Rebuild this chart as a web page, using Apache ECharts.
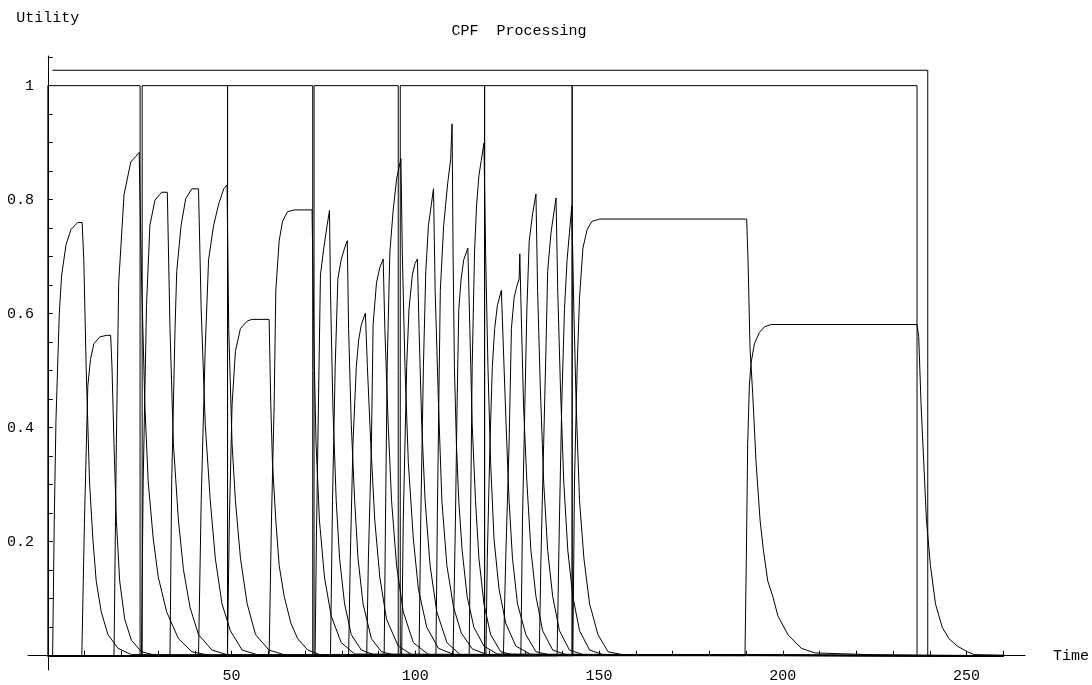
<!DOCTYPE html>
<html><head><meta charset="utf-8">
<script src="https://cdn.jsdelivr.net/npm/echarts@6/dist/echarts.min.js"></script>
<style>html,body{margin:0;padding:0;background:#fff}#c{width:1092px;height:685px}</style>
</head><body><div id="c"></div>
<script>
// ---- data ----
const xDomain = [0, 260];
const xTickValues = [10,20,30,40,50,60,70,80,90,100,110,120,130,140,150,160,170,180,190,200,210,220,230,240,250,260];
const xLabelValues = [50,100,150,200,250];
const yTickValues = [0.05,0.1,0.15,0.2,0.25,0.3,0.35,0.4,0.45,0.5,0.55,0.6,0.65,0.7,0.75,0.8,0.85,0.9,0.95,1,1.05];
const yLabelValues = [0.2,0.4,0.6,0.8,1];

// step utility functions (value 1 between start and deadline)
const stepStarts = [0, 25.67, 48.9, 72.44, 95.9, 118.85, 142.67];
const stepEnds   = [25.1, 48.9, 72.08, 95.35, 118.85, 142.67, 236.52];
// outer envelope line
const outerLine = [[1.27,1.027],[239.44,1.027],[239.44,0]];

const bumpA = [[1.3,0],[1.75,.238],[2.21,.413],[3.12,.601],[3.76,.668],[4.95,.721],[6.32,.748],[8.14,.76],[9.33,.76],[9.78,.695],[10.42,.507],[11.34,.305],[12.25,.205],[13.16,.131],[14.53,.077],[16.36,.037],[19.1,.013],[22.75,.002]];
const bumpB = [[9.24,0],[9.97,.238],[10.88,.473],[11.61,.52],[12.52,.547],[14.07,.559],[15.9,.562],[17.09,.562],[17.45,.507],[18.0,.372],[18.64,.238],[19.55,.131],[20.92,.064],[22.75,.027],[25.48,.007],[29.14,.001]];
const bumpC = [[18.0,0],[18.64,.372],[19.28,.654],[20.74,.809],[22.56,.866],[23.93,.876],[24.85,.883],[25.48,.668],[26.4,.44],[27.31,.305],[28.68,.205],[30.05,.138],[32.33,.077],[35.53,.03],[39.18,.007],[43.74,.001]];
const bumpD = [[25.48,0],[25.94,.305],[26.85,.614],[27.77,.755],[29.14,.799],[30.96,.813],[32.51,.813],[33.24,.574],[34.16,.372],[35.53,.238],[36.9,.151],[38.72,.084],[41.0,.037],[44.65,.01],[49.2,.001]];
const bumpE = [[33.24,0],[33.7,.305],[34.61,.574],[35.07,.674],[36.26,.755],[37.53,.802],[39.18,.819],[41.0,.819],[41.73,.607],[42.83,.406],[44.2,.272],[45.57,.171],[47.39,.091],[49.67,.044],[52.87,.01],[57.4,.001]];
const bumpF = [[41.0,0],[41.73,.272],[42.83,.54],[43.74,.695],[45.11,.755],[46.48,.792],[47.85,.819],[48.76,.826],[49.22,.574],[50.13,.372],[51.04,.272],[52.41,.171],[54.24,.091],[56.52,.037],[60.17,.01],[64.7,.001]];
const bumpG = [[48.85,0],[49.4,.238],[50.13,.44],[51.04,.534],[52.41,.574],[54.24,.587],[55.5,.59],[60.21,.59],[60.67,.44],[61.12,.339],[62.03,.238],[62.95,.158],[64.32,.104],[66.14,.057],[67.97,.03],[70.71,.01],[74.36,.001]];
const bumpH = [[60.21,0],[60.85,.238],[61.58,.44],[62.03,.641],[62.95,.728],[63.86,.762],[65.23,.779],[67.05,.782],[71.89,.782],[72.53,.507],[72.99,.372],[73.9,.238],[75.27,.138],[77.1,.07],[79.83,.023],[83.5,.003]];
const bumpI = [[72.72,0],[73.08,.205],[73.63,.44],[74.18,.668],[75.09,.715],[76.0,.755],[76.64,.781],[76.91,.641],[77.55,.44],[78.47,.272],[79.38,.171],[80.75,.091],[82.57,.037],[85.31,.01],[88.96,.001]];
const bumpJ = [[76.91,0],[77.46,.272],[78.19,.507],[78.92,.661],[79.83,.695],[80.75,.715],[81.48,.728],[81.84,.574],[82.57,.406],[83.49,.272],[84.4,.171],[85.77,.091],[88.05,.03],[90.79,.007],[94.4,.001]];
const bumpK = [[81.84,0],[82.3,.171],[83.03,.372],[83.94,.507],[84.58,.554],[85.31,.581],[86.41,.601],[86.95,.507],[87.87,.372],[88.96,.238],[90.33,.138],[92.16,.064],[95.35,.017],[99.0,.002]];
const bumpL = [[86.77,0],[87.23,.171],[88.05,.372],[88.51,.581],[89.42,.654],[90.33,.681],[91.25,.696],[91.7,.574],[92.61,.406],[93.53,.272],[94.9,.158],[96.72,.077],[99.46,.023],[103.6,.002]];
const bumpM = [[91.52,0],[91.88,.238],[92.34,.507],[93.07,.708],[93.98,.782],[94.9,.836],[96.08,.872],[96.45,.708],[97.18,.507],[98.09,.339],[99.46,.205],[100.83,.117],[103.11,.05],[106.3,.013],[110.9,.001]];
const bumpN = [[96.27,0],[96.72,.238],[97.64,.507],[98.27,.607],[99.19,.668],[99.92,.688],[100.56,.696],[101.01,.574],[101.74,.406],[102.66,.272],[104.02,.158],[105.85,.077],[108.59,.023],[112.2,.002]];
const bumpO = [[101.01,0],[101.47,.238],[102.2,.507],[102.84,.674],[103.57,.755],[104.3,.789],[104.94,.819],[105.39,.641],[106.31,.44],[107.22,.272],[108.59,.158],[110.4,.085],[112.5,.04],[115.5,.012],[119.5,.002]];
const bumpP = [[105.6,0],[106.0,.25],[106.5,.5],[106.8,.641],[107.71,.755],[108.81,.829],[109.6,.87],[110.0,.933],[110.27,.708],[110.63,.507],[111.18,.372],[111.82,.272],[112.73,.185],[114.1,.104],[115.93,.05],[118.67,.017],[122.3,.003]];
const bumpQ = [[110.27,0],[110.91,.238],[111.36,.44],[111.82,.607],[112.46,.661],[113.19,.695],[114.29,.715],[114.83,.574],[115.47,.406],[116.38,.272],[117.3,.171],[118.67,.091],[120.49,.037],[123.23,.007],[126.9,.001]];
const bumpR = [[114.65,0],[115.02,.238],[115.47,.507],[116.11,.708],[116.66,.789],[117.3,.842],[117.94,.869],[118.67,.899],[119.12,.708],[119.76,.507],[120.49,.339],[121.41,.205],[122.77,.117],[124.6,.057],[127.34,.017],[131.5,.002]];
const bumpS = [[119.21,0],[119.58,.171],[120.31,.372],[120.95,.507],[121.59,.574],[122.32,.614],[123.41,.641],[123.96,.54],[124.69,.406],[125.51,.272],[126.43,.171],[127.8,.091],[130.08,.037],[132.82,.007],[136.9,.001]];
const bumpT = [[123.96,0],[124.6,.171],[125.51,.372],[126.15,.574],[126.88,.628],[127.61,.648],[128.25,.661],[128.43,.705],[128.71,.628],[129.44,.44],[130.35,.305],[131.45,.185],[132.82,.104],[134.64,.044],[137.38,.01],[141.5,.001]];
const bumpU = [[128.71,0],[129.16,.238],[129.8,.44],[130.35,.607],[130.99,.728],[131.9,.775],[132.82,.81],[133.27,.641],[134.0,.473],[134.92,.305],[136.01,.185],[137.38,.104],[139.21,.044],[141.94,.01],[146.1,.001]];
const bumpV = [[133.73,0],[134.18,.171],[134.92,.372],[135.55,.54],[136.01,.674],[136.92,.742],[137.65,.775],[138.29,.803],[138.75,.641],[139.48,.473],[140.39,.305],[141.49,.185],[142.86,.104],[144.68,.044],[147.42,.01],[151.5,.001]];
const bumpW = [[138.57,0],[139.21,.238],[139.84,.44],[140.58,.607],[141.3,.695],[141.94,.742],[142.58,.789],[143.13,.607],[143.77,.44],[144.68,.272],[145.87,.171],[147.42,.091],[149.7,.037],[152.44,.007],[157.0,.001]];
const bumpX = [[142.86,0],[143.31,.305],[144.04,.507],[144.68,.628],[145.6,.715],[146.78,.748],[148.06,.762],[150.16,.766],[190.16,.766],[190.53,.695],[191.07,.54],[191.8,.46],[192.72,.339],[193.81,.238],[194.72,.185],[195.91,.131],[197.28,.104],[198.65,.07],[201.39,.037],[205.04,.013],[208.7,.005],[223,.002]];
const bumpY = [[189.7,0],[190.07,.171],[190.44,.372],[190.89,.473],[191.35,.513],[192.26,.547],[193.63,.567],[195.0,.577],[196.83,.581],[236.52,.581],[236.98,.56],[237.62,.44],[238.35,.339],[239.08,.238],[240.17,.158],[241.54,.091],[243.37,.05],[245.2,.03],[247.48,.017],[250.21,.007],[252.04,.002],[260,.001]];

const bumps = [bumpA,bumpB,bumpC,bumpD,bumpE,bumpF,bumpG,bumpH,bumpI,bumpJ,bumpK,bumpL,bumpM,bumpN,bumpO,bumpP,bumpQ,bumpR,bumpS,bumpT,bumpU,bumpV,bumpW,bumpX,bumpY];

// ---- chart ----
const FONT_MONO = 'Liberation Mono';
const lineStyle = {color:'#000', width:1};
const series = [];
function addLine(data){
  series.push({type:'line', data:data, symbol:'none', showSymbol:false, lineStyle:lineStyle,
    silent:true, animation:false, z:2});
}
bumps.forEach(b => addLine([[xDomain[0],0]].concat(b, [[xDomain[1],0]])));
stepStarts.forEach((s,i) => addLine([[s,0],[s,1],[stepEnds[i],1],[stepEnds[i],0]]));
addLine(outerLine);

const chart = echarts.init(document.getElementById('c'), null, {renderer:'canvas'});
chart.setOption({
  backgroundColor:'#fff',
  animation:false,
  title:{
    text:'CPF  Processing', left:514, top:19, textAlign:'center',
    textStyle:{fontFamily:FONT_MONO, fontSize:15, fontWeight:'normal', color:'#000'}
  },
  grid:{left:28, right:67, top:56, bottom:15, containLabel:false, outerBoundsMode:'none'},
  xAxis:{
    type:'value', min:-5.4, max:265.9,
    axisLine:{onZero:true, lineStyle:{color:'#000', width:1}},
    axisTick:{inside:true, length:5, customValues:xTickValues, lineStyle:{color:'#000'}},
    axisLabel:{customValues:xLabelValues, color:'#000', fontFamily:FONT_MONO, fontSize:15, margin:-1},
    splitLine:{show:false},
    name:'Time', nameLocation:'end', nameGap:28,
    nameTextStyle:{fontFamily:FONT_MONO, fontSize:15, color:'#000', align:'left', verticalAlign:'middle'}
  },
  yAxis:{
    type:'value', min:-0.025, max:1.052,
    axisLine:{onZero:true, lineStyle:{color:'#000', width:1}},
    axisTick:{inside:true, length:5, customValues:yTickValues, lineStyle:{color:'#000'}},
    axisLabel:{customValues:yLabelValues, color:'#000', fontFamily:FONT_MONO, fontSize:15, margin:-6,
      formatter: v => String(v)},
    splitLine:{show:false},
    name:'Utility', nameLocation:'end', nameGap:30,
    nameTextStyle:{fontFamily:FONT_MONO, fontSize:15, color:'#000', align:'center'}
  },
  series:series
});
</script>
</body></html>
